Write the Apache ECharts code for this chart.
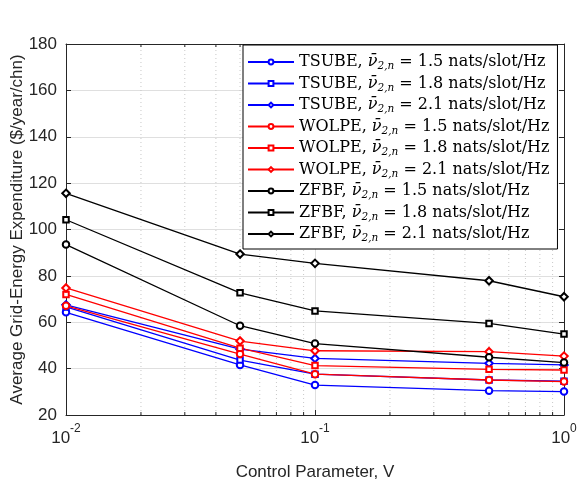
<!DOCTYPE html>
<html>
<head>
<meta charset="utf-8">
<script src="https://cdn.jsdelivr.net/npm/echarts@6/dist/echarts.min.js"></script>
<style>
  html, body { margin: 0; padding: 0; background: #fff; }
  #chart { width: 580px; height: 485px; }
</style>
</head>
<body>
<div id="chart"></div>
<script>
// Control parameter V (log scale)
const controlV = [0.01, 0.05, 0.1, 0.5, 1];

// Average grid-energy expenditure ($/year/chn) per scheme and target rate
const tsube15 = [64.3, 41.6, 32.9, 30.5, 30.1];
const tsube18 = [66.6, 43.7, 37.6, 35.1, 34.6];
const tsube21 = [67.5, 48.4, 44.4, 42.3, 41.6];
const wolpe15 = [67.1, 46.3, 37.6, 35.1, 34.4];
const wolpe18 = [72.0, 48.8, 41.3, 39.7, 39.4];
const wolpe21 = [74.8, 51.9, 47.7, 47.3, 45.4];
const zfbf15 = [93.5, 58.5, 50.8, 44.9, 42.6];
const zfbf18 = [104.2, 72.7, 64.9, 59.5, 54.9];
const zfbf21 = [115.6, 89.4, 85.4, 77.9, 71.0];

const schemes = ['TSUBE', 'WOLPE', 'ZFBF'];
const rates = ['1.5', '1.8', '2.1'];
const yTicks = [20, 40, 60, 80, 100, 120, 140, 160, 180];
const minorV = [0.02, 0.03, 0.04, 0.05, 0.06, 0.07, 0.08, 0.09,
                0.2, 0.3, 0.4, 0.5, 0.6, 0.7, 0.8, 0.9];

const values = [
  [tsube15, tsube18, tsube21],
  [wolpe15, wolpe18, wolpe21],
  [zfbf15, zfbf18, zfbf21]
];
const colors = ['#0000ff', '#ff0000', '#000000'];
const symbols = ['emptyCircle', 'emptyRect', 'emptyDiamond'];
const symbolSizes = [6.5, 5.5, 7.5];

const axisColor = '#262626';
const gridColor = '#dfdfdf';
const yMin = yTicks[0], yMax = yTicks[yTicks.length - 1];

const series = [];
const legendText = {};
schemes.forEach((s, i) => {
  rates.forEach((r, j) => {
    const name = s + ' ' + r;
    legendText[name] = '{t|' + s + ', }{n|\u03BD\u0304}{s|2,n}{t| = ' + r + ' nats/slot/Hz}';
    series.push({
      name: name,
      type: 'line',
      xAxisIndex: 0,
      yAxisIndex: 0,
      data: controlV.map((v, k) => [v, values[i][j][k]]),
      symbol: symbols[j],
      symbolSize: symbolSizes[j],
      showAllSymbol: true,
      lineStyle: { color: colors[i], width: 1.3 },
      itemStyle: { color: colors[i], borderWidth: 1.2 },
      z: 5,
      emphasis: { disabled: true },
      animation: false
    });
  });
});

// dotted minor grid lines and minor ticks for the log axis
series.push({
  type: 'custom',
  name: 'minorGrid',
  xAxisIndex: 0,
  yAxisIndex: 0,
  silent: true,
  z: 1,
  data: minorV.map(v => [v, yMin]),
  renderItem: function (params, api) {
    const v = api.value(0);
    const p0 = api.coord([v, yMin]);
    const p1 = api.coord([v, yMax]);
    return {
      type: 'group',
      children: [
        { type: 'line', shape: { x1: p0[0], y1: p0[1], x2: p1[0], y2: p1[1] },
          style: { stroke: '#c8c8c8', lineWidth: 1, lineDash: [1, 3] } },
        { type: 'line', shape: { x1: p0[0], y1: p0[1], x2: p0[0], y2: p0[1] - 3 },
          style: { stroke: axisColor, lineWidth: 1 } },
        { type: 'line', shape: { x1: p1[0], y1: p1[1], x2: p1[0], y2: p1[1] + 3 },
          style: { stroke: axisColor, lineWidth: 1 } }
      ]
    };
  },
  animation: false
});

const labelFont = 'Liberation Sans, Arial, Helvetica, sans-serif';
const serifFont = 'DejaVu Serif, Liberation Serif, serif';

const chart = echarts.init(document.getElementById('chart'), null, { renderer: 'canvas' });
chart.setOption({
  backgroundColor: '#ffffff',
  animation: false,
  grid: { left: 66, right: 16, top: 44, bottom: 70, show: false, outerBoundsMode: 'none', containLabel: false },
  legend: {
    data: series.filter(s => s.type === 'line').map(s => s.name),
    orient: 'vertical',
    left: 243,
    top: 45,
    itemWidth: 46,
    itemHeight: 6,
    itemGap: 3.5,
    padding: [9, 8, 5, 4],
    backgroundColor: '#ffffff',
    borderColor: '#000000',
    borderWidth: 1,
    borderRadius: 0,
    selectedMode: false,
    formatter: name => legendText[name],
    textStyle: {
      color: '#000000',
      fontFamily: serifFont,
      fontSize: 16,
      rich: {
        t: { fontFamily: serifFont, fontSize: 16, lineHeight: 20, color: '#000' },
        n: { fontFamily: serifFont, fontStyle: 'italic', fontSize: 16, lineHeight: 20, color: '#000' },
        s: { fontFamily: serifFont, fontStyle: 'italic', fontSize: 10.5, lineHeight: 11, verticalAlign: 'bottom', color: '#000' }
      }
    }
  },
  xAxis: [{
    type: 'log',
    logBase: 10,
    min: 0.01,
    max: 1,
    name: 'Control Parameter, V',
    nameLocation: 'middle',
    nameGap: 49,
    nameMoveOverlap: false,
    nameTextStyle: { fontFamily: labelFont, fontSize: 17, color: axisColor },
    axisLine: { show: true, onZero: false, lineStyle: { color: axisColor, width: 1 } },
    axisTick: { show: true, inside: true, length: 5, lineStyle: { color: axisColor } },
    splitLine: { show: true, lineStyle: { color: gridColor, width: 1 } },
    axisLabel: {
      margin: 8,
      formatter: function (v) {
        const e = Math.round(Math.log10(v));
        return '{b|10}{e|' + e + '}';
      },
      rich: {
        b: { fontFamily: labelFont, fontSize: 17, lineHeight: 24, color: axisColor, verticalAlign: 'bottom' },
        e: { fontFamily: labelFont, fontSize: 12, lineHeight: 12, color: axisColor, verticalAlign: 'top' }
      }
    }
  }, {
    type: 'log',
    logBase: 10,
    min: 0.01,
    max: 1,
    position: 'top',
    axisLine: { show: true, onZero: false, lineStyle: { color: axisColor, width: 1 } },
    axisTick: { show: true, inside: true, length: 5, lineStyle: { color: axisColor } },
    axisLabel: { show: false },
    splitLine: { show: false }
  }],
  yAxis: [{
    type: 'value',
    min: yMin,
    max: yMax,
    interval: 20,
    name: 'Average Grid-Energy Expenditure ($/year/chn)',
    nameLocation: 'middle',
    nameGap: 40,
    nameMoveOverlap: false,
    nameTextStyle: { fontFamily: labelFont, fontSize: 17, color: axisColor },
    axisLine: { show: true, onZero: false, lineStyle: { color: axisColor, width: 1 } },
    axisTick: { show: true, inside: true, length: 5, lineStyle: { color: axisColor } },
    splitLine: { show: true, lineStyle: { color: gridColor, width: 1 } },
    axisLabel: { margin: 9, fontFamily: labelFont, fontSize: 17, color: axisColor }
  }, {
    type: 'value',
    min: yMin,
    max: yMax,
    interval: 20,
    position: 'right',
    axisLine: { show: true, onZero: false, lineStyle: { color: axisColor, width: 1 } },
    axisTick: { show: true, inside: true, length: 5, lineStyle: { color: axisColor } },
    axisLabel: { show: false },
    splitLine: { show: false }
  }],
  series: series
});
</script>
</body>
</html>
